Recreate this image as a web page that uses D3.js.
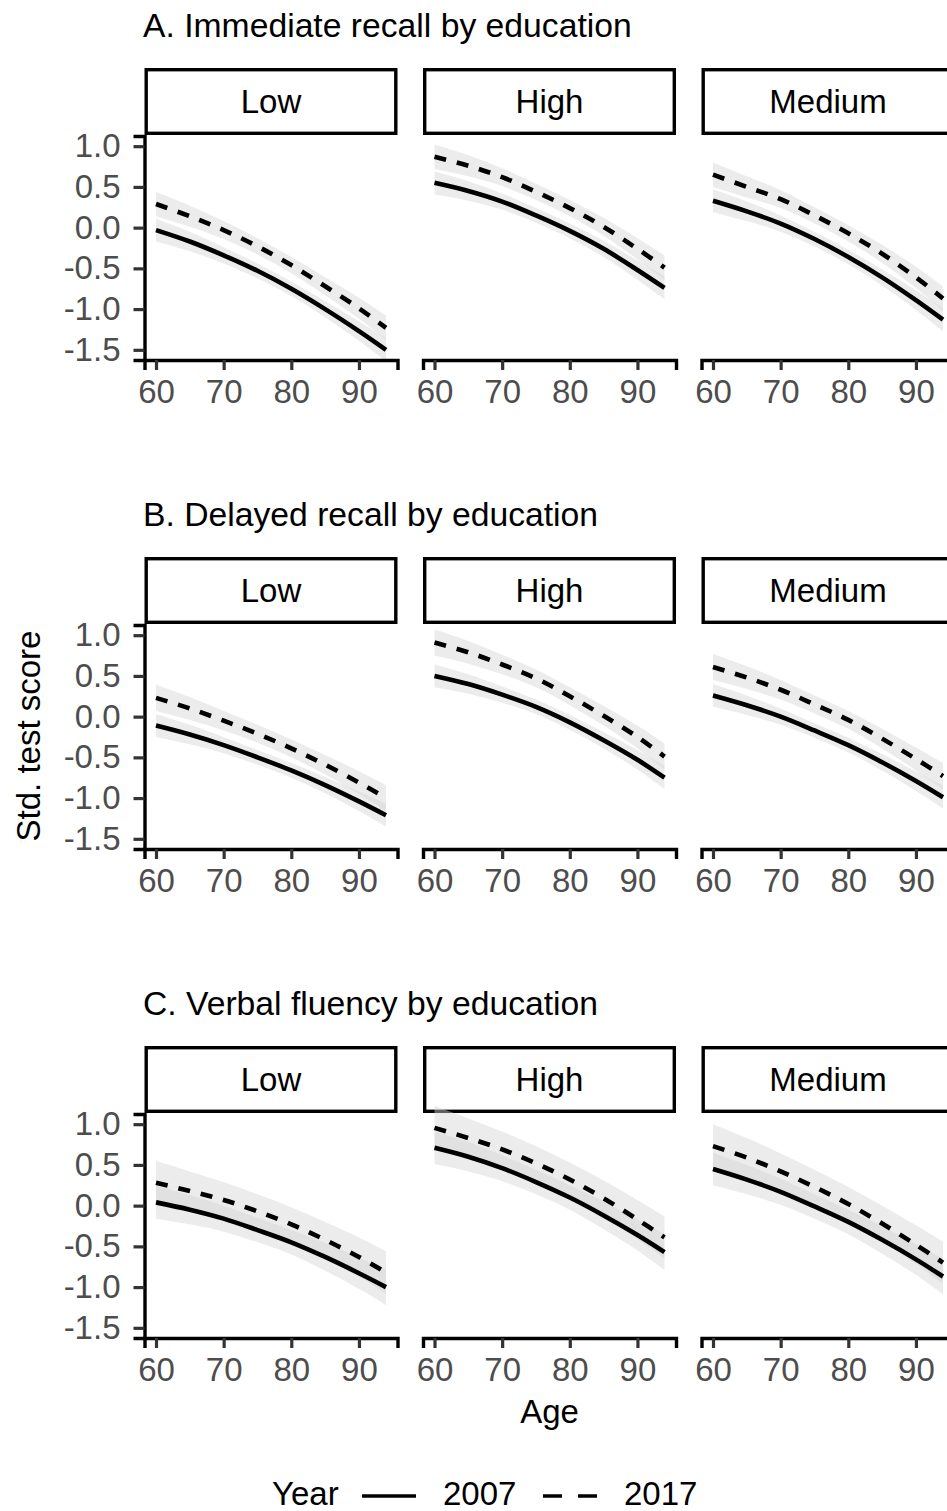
<!DOCTYPE html>
<html>
<head>
<meta charset="utf-8">
<title>Std. test score by age, year and education</title>
<script src="https://d3js.org/d3.v7.min.js"></script>
<style>
  body { margin: 0; background: #fff; }
  text { font-family: "Liberation Sans", Arial, sans-serif; }
</style>
</head>
<body>
<div id="chart"></div>
<script>
// ages at which the fitted curves were read
var ages = [60, 65, 70, 75, 80, 85, 90, 94];
var educations = ["Low", "High", "Medium"];
var years = ["2007", "2017"];
var rowTitles = ["A. Immediate recall by education", "B. Delayed recall by education", "C. Verbal fluency by education"];
var xTicks = [60, 70, 80, 90];
var yTicks = [1.0, 0.5, 0.0, -0.5, -1.0, -1.5];

// A. Immediate recall
var immLow2007 = [-0.03, -0.17, -0.34, -0.53, -0.75, -1.00, -1.27, -1.50];
var immLow2017 = [0.29, 0.14, -0.03, -0.23, -0.46, -0.72, -0.99, -1.23];
var immHigh2007 = [0.55, 0.45, 0.32, 0.15, -0.04, -0.26, -0.52, -0.74];
var immHigh2017 = [0.87, 0.76, 0.62, 0.44, 0.24, 0.01, -0.26, -0.49];
var immMed2007 = [0.33, 0.20, 0.05, -0.14, -0.36, -0.61, -0.89, -1.13];
var immMed2017 = [0.65, 0.50, 0.35, 0.15, -0.07, -0.32, -0.61, -0.87];

// B. Delayed recall
var delLow2007 = [-0.11, -0.22, -0.35, -0.50, -0.66, -0.84, -1.04, -1.21];
var delLow2017 = [0.23, 0.10, -0.05, -0.21, -0.39, -0.59, -0.81, -1.00];
var delHigh2007 = [0.50, 0.40, 0.27, 0.12, -0.07, -0.29, -0.53, -0.75];
var delHigh2017 = [0.91, 0.79, 0.64, 0.47, 0.25, 0.01, -0.25, -0.49];
var delMed2007 = [0.26, 0.14, 0.00, -0.17, -0.35, -0.56, -0.79, -0.99];
var delMed2017 = [0.61, 0.48, 0.33, 0.15, -0.04, -0.27, -0.52, -0.73];

// C. Verbal fluency
var fluLow2007 = [0.04, -0.05, -0.16, -0.30, -0.45, -0.63, -0.83, -1.00];
var fluLow2017 = [0.28, 0.18, 0.07, -0.07, -0.23, -0.42, -0.63, -0.82];
var fluHigh2007 = [0.71, 0.60, 0.46, 0.29, 0.10, -0.12, -0.36, -0.57];
var fluHigh2017 = [0.955, 0.83, 0.69, 0.52, 0.32, 0.09, -0.17, -0.39];
var fluMed2007 = [0.45, 0.32, 0.17, -0.01, -0.20, -0.42, -0.66, -0.87];
var fluMed2017 = [0.73, 0.59, 0.42, 0.23, 0.02, -0.22, -0.48, -0.70];

// half widths of the confidence bands (per row, per year)
var ciImm2007 = [0.14, 0.12, 0.10, 0.09, 0.09, 0.10, 0.12, 0.14];
var ciImm2017 = [0.15, 0.13, 0.11, 0.10, 0.10, 0.11, 0.13, 0.15];
var ciDel2007 = [0.14, 0.12, 0.10, 0.09, 0.09, 0.10, 0.12, 0.14];
var ciDel2017 = [0.16, 0.14, 0.12, 0.11, 0.11, 0.12, 0.14, 0.16];
var ciFlu2007 = [0.20, 0.18, 0.16, 0.15, 0.15, 0.17, 0.19, 0.22];
var ciFlu2017 = [0.27, 0.24, 0.22, 0.21, 0.21, 0.22, 0.24, 0.26];

var rows = [
    { title: rowTitles[0], ci: [ciImm2007, ciImm2017],
      series: [[immLow2007, immLow2017], [immHigh2007, immHigh2017], [immMed2007, immMed2017]] },
    { title: rowTitles[1], ci: [ciDel2007, ciDel2017],
      series: [[delLow2007, delLow2017], [delHigh2007, delHigh2017], [delMed2007, delMed2017]] },
    { title: rowTitles[2], ci: [ciFlu2007, ciFlu2017],
      series: [[fluLow2007, fluLow2017], [fluHigh2007, fluHigh2017], [fluMed2007, fluMed2017]] }
];

var width = 947, height = 1511;
var rowStep = 489;
var panelW = 253, panelStep = 278.5, panelLeft0 = 144.5;
var stripTop = 68, stripH = 67, panelTop = 136, panelBottom = 360;
var fontTitle = 33.7, fontBig = 33, fontTick = 33;
var lineW = 4.6;
var dashes = "12,11";

var svg = d3.select("#chart").append("svg")
    .attr("width", width)
    .attr("height", height)
    .style("display", "block");

svg.append("rect").attr("width", width).attr("height", height).attr("fill", "#fff");

var x = d3.scaleLinear().domain([58.3, 95.7]).range([0, panelW]);
var y = d3.scaleLinear().domain([-1.625, 1.125]).range([panelBottom - panelTop, 0]);

var line = d3.line()
    .x(function(d) { return x(d.age); })
    .y(function(d) { return y(d.v); })
    .curve(d3.curveCatmullRom);

var band = d3.area()
    .x(function(d) { return x(d.age); })
    .y0(function(d) { return y(d.v - d.ci); })
    .y1(function(d) { return y(d.v + d.ci); })
    .curve(d3.curveCatmullRom);

rows.forEach(function(row, r) {
    var top = r * rowStep;

    svg.append("text")
        .attr("x", 143)
        .attr("y", top + 36.5)
        .attr("font-size", fontTitle)
        .attr("fill", "#000")
        .text(row.title);

    educations.forEach(function(edu, p) {
        var left = panelLeft0 + p * panelStep;

        // strip
        svg.append("rect")
            .attr("x", left + 1.7)
            .attr("y", top + stripTop + 1.7)
            .attr("width", panelW - 3.4)
            .attr("height", stripH - 3.4)
            .attr("fill", "#fff")
            .attr("stroke", "#000")
            .attr("stroke-width", 3.4);

        svg.append("text")
            .attr("x", left + panelW / 2)
            .attr("y", top + 113)
            .attr("text-anchor", "middle")
            .attr("font-size", fontBig)
            .attr("fill", "#000")
            .text(edu);

        var g = svg.append("g")
            .attr("transform", "translate(" + left + "," + (top + panelTop) + ")");

        var curves = row.series[p].map(function(vals, k) {
            return vals.map(function(v, i) { return { age: ages[i], v: v, ci: row.ci[k][i] }; });
        });

        // confidence bands
        g.selectAll("path.band")
            .data(curves)
            .enter()
            .append("path")
            .attr("class", "band")
            .attr("d", band)
            .attr("fill", "#d4d4d4")
            .attr("fill-opacity", 0.45);

        // fitted lines
        g.selectAll("path.fit")
            .data(curves)
            .enter()
            .append("path")
            .attr("class", "fit")
            .attr("d", line)
            .attr("fill", "none")
            .attr("stroke", "#000")
            .attr("stroke-width", lineW)
            .attr("stroke-dasharray", function(d, k) { return k === 1 ? dashes : null; });

        // x axis
        var gx = g.append("g")
            .attr("transform", "translate(0," + (panelBottom - panelTop) + ")")
            .call(d3.axisBottom(x).tickValues(xTicks).tickSizeOuter(0).tickSize(10).tickPadding(10));
        styleAxis(gx);

        if (p === 0) {
            var gy = g.append("g")
                .call(d3.axisLeft(y).tickValues(yTicks).tickSizeOuter(0).tickSize(11).tickPadding(13)
                    .tickFormat(function(d) { return d.toFixed(1); }));
            styleAxis(gy);
        }
    });
});

function styleAxis(a) {
    a.select(".domain").attr("stroke", "#000").attr("stroke-width", 3.4);
    a.selectAll(".tick line").attr("stroke", "#333").attr("stroke-width", 3.2);
    a.selectAll(".tick text")
        .attr("font-size", fontTick)
        .attr("font-family", "Liberation Sans, Arial, sans-serif")
        .attr("fill", "#4d4d4d");
}

// axis titles
svg.append("text")
    .attr("x", panelLeft0 + panelStep + panelW / 2)
    .attr("y", 1423)
    .attr("text-anchor", "middle")
    .attr("font-size", fontBig)
    .attr("fill", "#000")
    .text("Age");

svg.append("text")
    .attr("transform", "translate(40,736) rotate(-90)")
    .attr("text-anchor", "middle")
    .attr("font-size", fontBig)
    .attr("fill", "#000")
    .text("Std. test score");

// legend
var legend = svg.append("g").attr("transform", "translate(0,1505)");
legend.append("text")
    .attr("x", 272)
    .attr("font-size", fontBig)
    .attr("fill", "#000")
    .text("Year");

var keyX = [362, 543];
var labelX = [443, 624];
years.forEach(function(yr, k) {
    legend.append("line")
        .attr("x1", keyX[k]).attr("x2", keyX[k] + 54)
        .attr("y1", -9).attr("y2", -9)
        .attr("stroke", "#000")
        .attr("stroke-width", 3.6)
        .attr("stroke-dasharray", k === 1 ? "19,16" : null);
    legend.append("text")
        .attr("x", labelX[k])
        .attr("font-size", fontBig)
        .attr("fill", "#000")
        .text(yr);
});
</script>
</body>
</html>
